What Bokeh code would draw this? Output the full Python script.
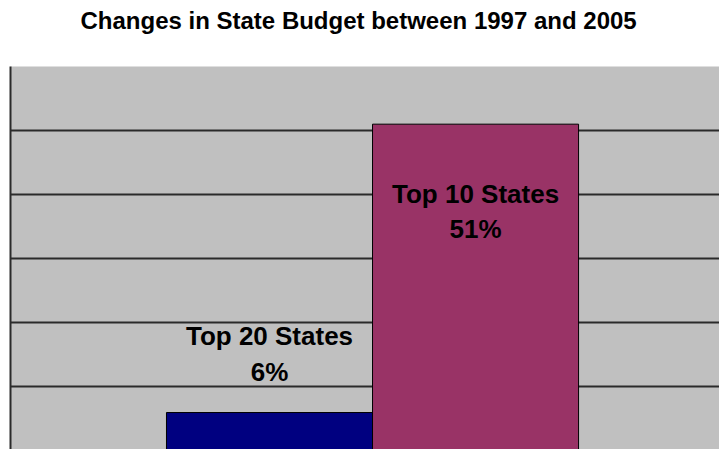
from bokeh.plotting import figure
from bokeh.models import Range1d, FixedTicker, Grid, ColumnDataSource, Title
from bokeh.embed import file_html
from bokeh.resources import INLINE
from bokeh.core.properties import value

# ---- data ----
title_text = "Changes in State Budget between 1997 and 2005"
categories = ["Top 20 States", "Top 10 States"]
values = [6, 51]
colors = ["#000080", "#993366"]
grid_ticks = [10, 20, 30, 40, 50]
y_max = 60

n = len(categories)
offsets = [i - (n - 1) / 2 for i in range(n)]
labels = [f"{c}\n{v}%" for c, v in zip(categories, values)]

src = ColumnDataSource(dict(x=offsets, top=values, color=colors, label=labels))

p = figure(width=719, height=449, output_backend="svg", toolbar_location=None,
           x_range=Range1d(-1.757, 1.684), y_range=Range1d(0.23, y_max),
           min_border_left=10, min_border_right=0, min_border_bottom=0, min_border_top=66)
p.title = None

# title: a trailing empty line reserves the gap between title and plot area
title = Title(text=title_text + "\n", align="left", offset=70, vertical_align="top",
              standoff=0, text_font="Liberation Sans", text_font_size="24px",
              text_font_style="bold", text_color="#000000", text_line_height=1.15)
p.add_layout(title, "above")

p.background_fill_color = "#C0C0C0"
p.border_fill_color = "white"
p.outline_line_color = None

p.xaxis.visible = False
p.yaxis.ticker = FixedTicker(ticks=[])
p.yaxis.major_tick_out = 0
p.yaxis.major_tick_in = 0
p.yaxis.minor_tick_out = 0
p.yaxis.minor_tick_in = 0
p.yaxis.major_label_standoff = 0
p.yaxis.axis_line_width = 2
p.yaxis.axis_line_color = "#2a2a2a"

p.xgrid.visible = False
p.ygrid.ticker = FixedTicker(ticks=grid_ticks)
p.ygrid.grid_line_color = "#2a2a2a"
p.ygrid.grid_line_width = 2

top_grid = Grid(dimension=1, ticker=FixedTicker(ticks=[y_max]),
                grid_line_color="#8c8c8c", grid_line_width=1)
p.add_layout(top_grid)

p.vbar(x="x", top="top", bottom=0, width=1, fill_color="color",
       line_color="#000000", line_width=1, source=src)

common = dict(text_font=value("Liberation Sans"), text_font_size="26px",
              text_font_style="bold", text_color="#000000", text_align="center",
              text_line_height=1.17)
p.text(x=[offsets[0]], y=[values[0]], text=[labels[0]], text_baseline="bottom",
       y_offset=-26, **common)
p.text(x=[offsets[1]], y=[values[1]], text=[labels[1]], text_baseline="top",
       y_offset=55, **common)

open("out.html", "w").write(file_html(p, INLINE))
